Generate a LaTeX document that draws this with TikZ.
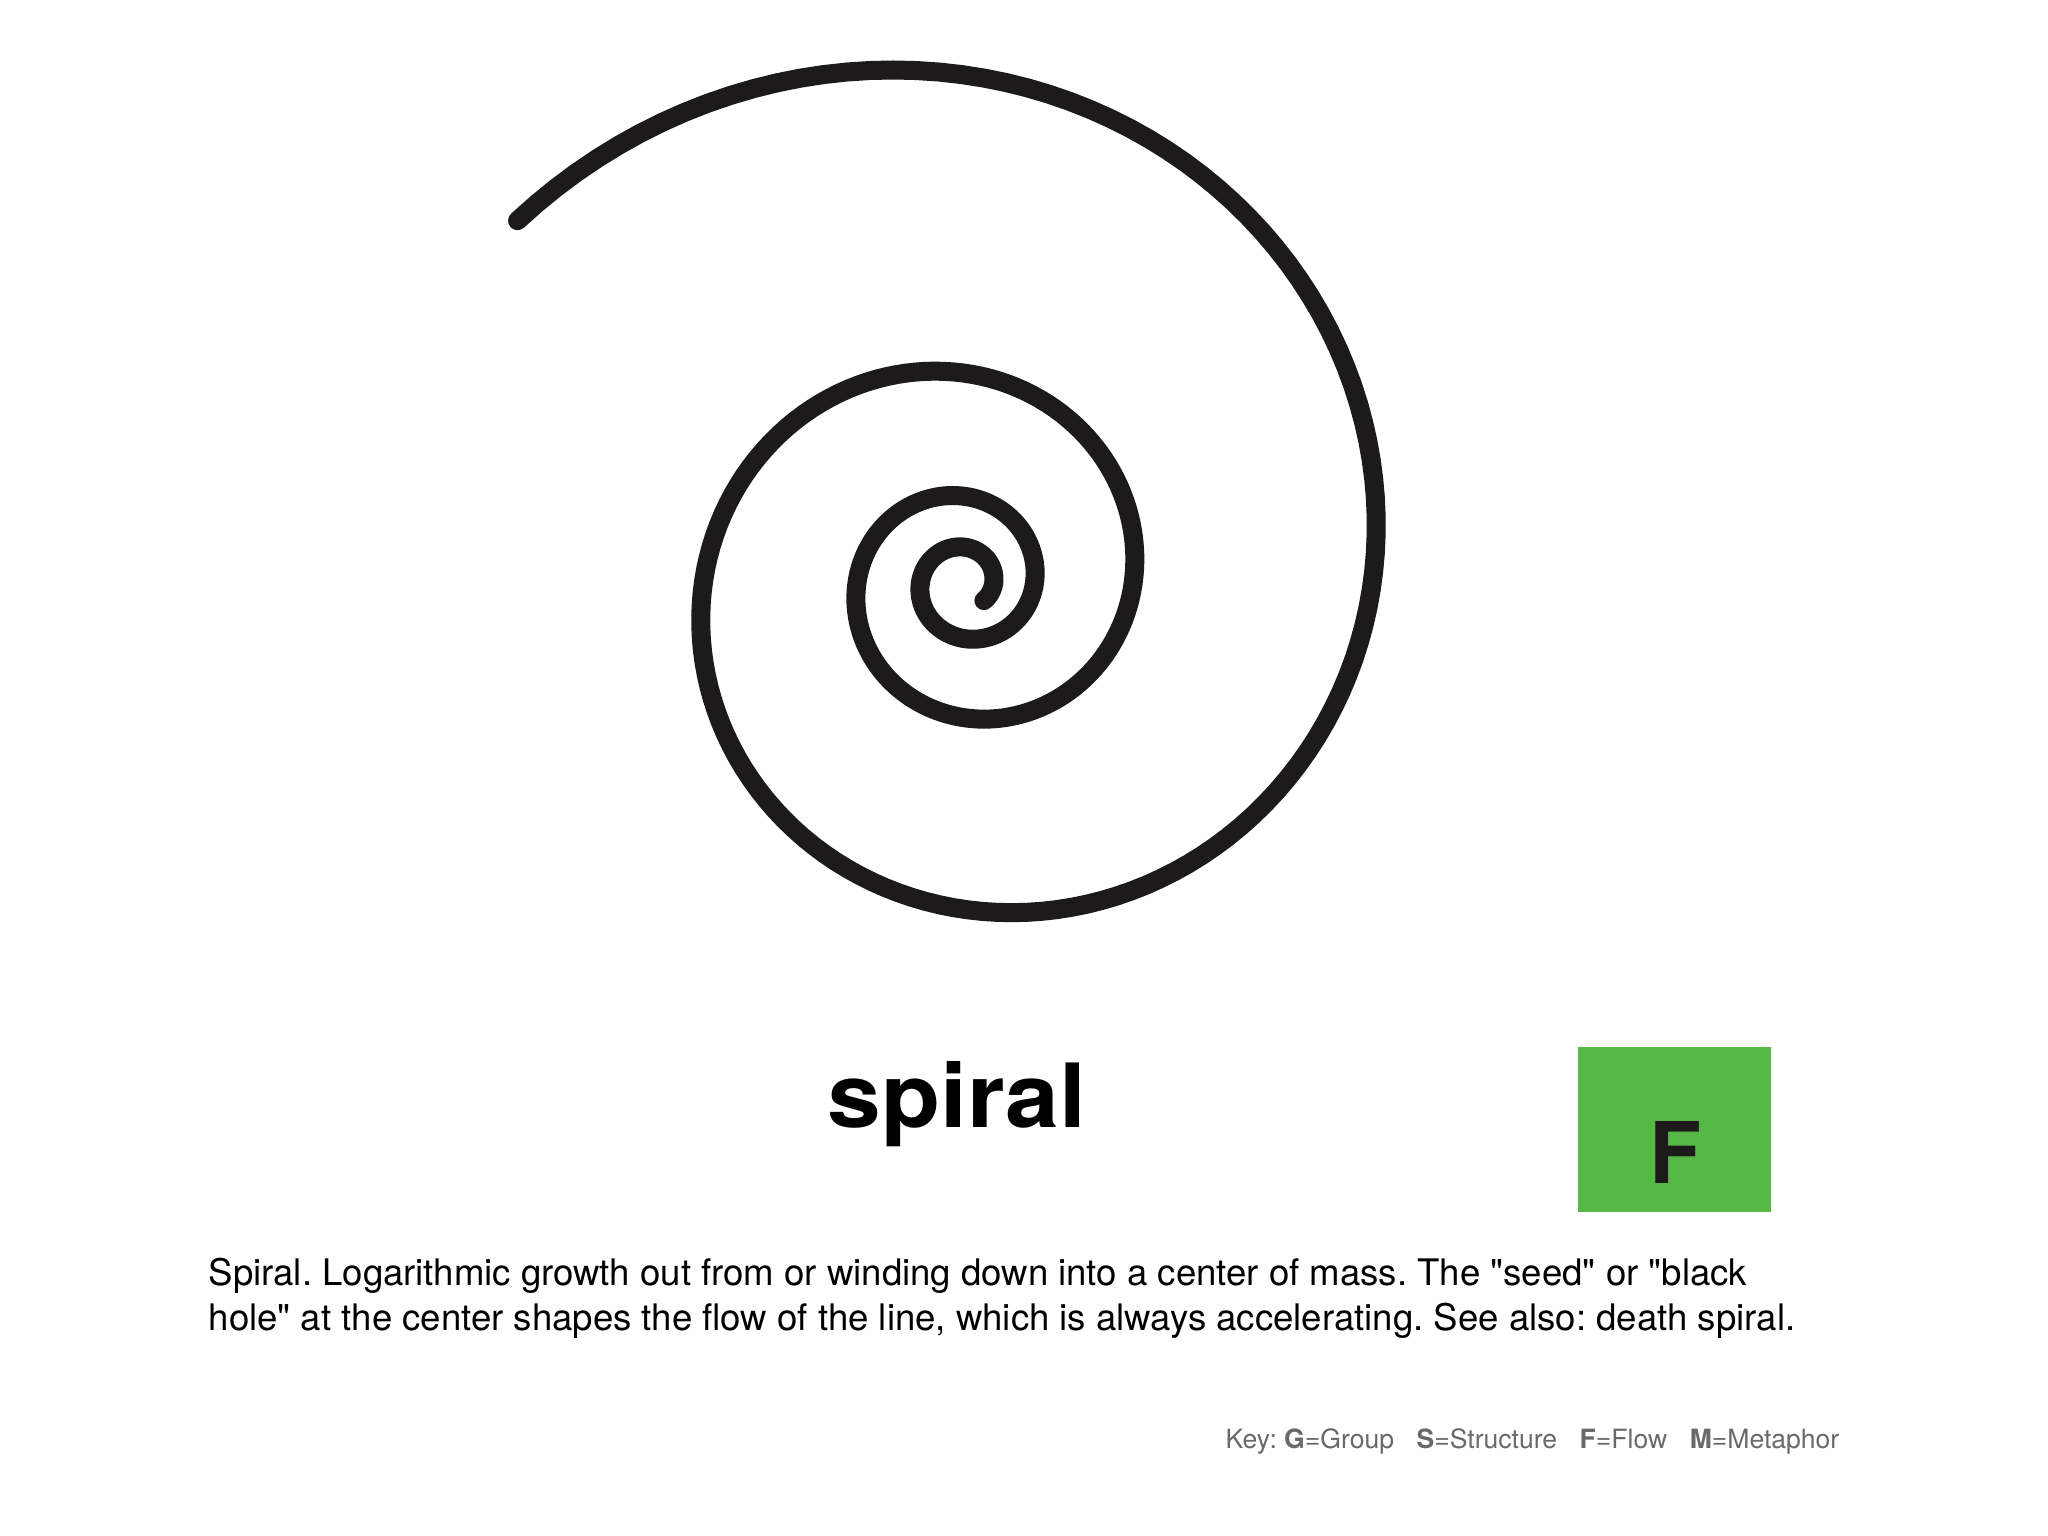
\documentclass[tikz,border=0pt]{standalone}
\usepackage{fontspec}
\setmainfont[Ligatures=TeXOff]{TeX Gyre Heros}
\frenchspacing
\definecolor{flowgreen}{RGB}{86,185,70}
\definecolor{keygray}{RGB}{105,105,105}
\definecolor{inkblack}{RGB}{28,26,26}

\begin{document}
\begin{tikzpicture}[x=0.01cm,y=-0.01cm,
		spiralline/.style={draw=inkblack,line width=0.19cm,line cap=round},
		titletext/.style={inner sep=0pt,anchor=base,xscale=1.09,font=\fontsize{25.2}{30}\selectfont\bfseries},
		desctext/.style={inner sep=0pt,anchor=base west,font=\fontsize{10.4}{12}\selectfont},
		keytext/.style={inner sep=0pt,anchor=base west,text=keygray,font=\fontsize{7.55}{9}\selectfont}]
			\useasboundingbox [fill=white] (0,0) rectangle (2048,1536);
			% logarithmic spiral, r = 28.68 e^{0.1405 t}
			\draw [spiralline] plot [domain=-43:1221,samples=500,variable=\t]
				({965+28.68*exp(0.0024522*\t)*cos(\t)},{583-28.68*exp(0.0024522*\t)*sin(\t)});
			\draw (957,1127) node [titletext] (title) {spiral};
			\fill [flowgreen] (1578,1047) rectangle (1771,1212);
			\draw (1675,1183) node [inner sep=0pt,anchor=base,text=inkblack,font=\fontsize{24.2}{28}\selectfont\bfseries] (flowtag) {F};
			\draw (208,1285) node [desctext] (desca) {Spiral. Logarithmic growth out from or winding down into a center of mass. The "seed" or "black};
			\draw (208,1330) node [desctext] (descb) {hole" at the center shapes the flow of the line, which is always accelerating. See also: death spiral.};
			\draw (1225,1448) node [keytext] (key) {Key: \textbf{G}=Group\hspace{0.85em}\textbf{S}=Structure\hspace{0.85em}\textbf{F}=Flow\hspace{0.85em}\textbf{M}=Metaphor};
		\end{tikzpicture}
\end{document}
